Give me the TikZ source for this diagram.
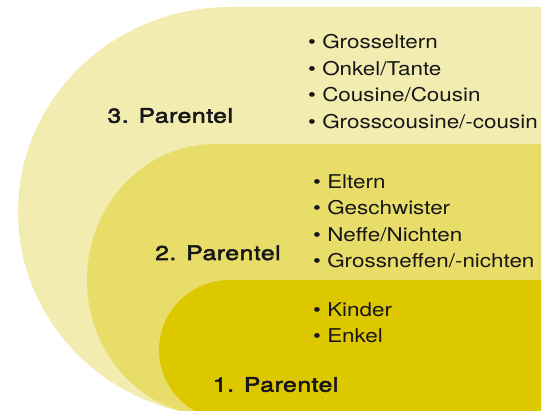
\documentclass[tikz,border=0pt]{standalone}
\usepackage{fontspec}
\newfontfamily\listfont[FakeStretch=1.18]{TeX Gyre Heros}
\newfontfamily\labfont[FakeStretch=1.24,FakeBold=2.6,LetterSpace=2.5]{TeX Gyre Heros}
\definecolor{pthree}{RGB}{243,236,177}
\definecolor{ptwo}{RGB}{233,221,106}
\definecolor{pone}{RGB}{221,200,0}
\definecolor{ink}{RGB}{22,22,22}
\tikzset{
  item/.style={anchor=base west,inner sep=0pt,text=ink,font=\listfont\fontsize{19}{19}\selectfont},
  lab/.style={anchor=base west,inner sep=0pt,text=ink,font=\labfont\fontsize{20}{20}\selectfont}
}
\begin{document}
\begin{tikzpicture}[x=1pt,y=1pt]
\useasboundingbox (0,0) rectangle (554,410);
\begin{scope}
\clip (0,0) rectangle (554,410);
\fill[pthree] (541,403) -- (230,403) arc[start angle=90,end angle=270,x radius=212,y radius=205] -- (541,-7) -- cycle;
\fill[ptwo] (541,266) -- (215,266) arc[start angle=90,end angle=270,x radius=128,y radius=136] -- (541,-6) -- cycle;
\fill[pone] (541,130) -- (230,130) arc[start angle=90,end angle=270,x radius=71,y radius=70] -- (541,-10) -- cycle;
\end{scope}
\node[lab] (p3) at (107.3,287.3) {3. Parentel};
\node[lab] (p2) at (155,150) {2. Parentel};
\node[lab] (p1) at (212.7,18.3) {1. Parentel};
\node[item] (a1) at (308,361) {• Grosseltern};
\node[item] (a2) at (308,334.3) {• Onkel/Tante};
\node[item] (a3) at (308,308) {• Cousine/Cousin};
\node[item] (a4) at (308,281.7) {• Grosscousine/-cousin};
\node[item] (b1) at (313,221) {• Eltern};
\node[item] (b2) at (313,195) {• Geschwister};
\node[item] (b3) at (313,168.3) {• Neffe/Nichten};
\node[item] (b4) at (313,142.3) {• Grossneffen/-nichten};
\node[item] (c1) at (313,94) {• Kinder};
\node[item] (c2) at (313,67.3) {• Enkel};
\end{tikzpicture}
\end{document}
